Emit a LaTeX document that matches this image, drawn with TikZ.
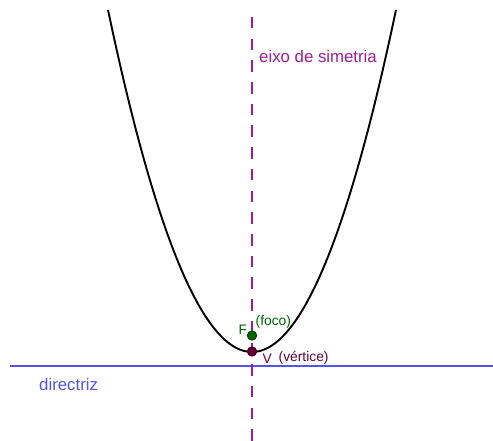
\documentclass[tikz,border=0pt]{standalone}
\usepackage{fontspec}
\setmainfont{Liberation Sans}
\usetikzlibrary{positioning}
\definecolor{eixo}{HTML}{9A1F9A}
\definecolor{dirz}{HTML}{5454E0}
\definecolor{foco}{HTML}{006400}
\definecolor{vert}{HTML}{660033}

\begin{document}
\begin{tikzpicture}[x=1pt, y=-1pt, font=\fontsize{16.8}{20}\selectfont,
  pto/.style={circle, inner sep=0pt, minimum size=9.5pt, draw=#1!70!black, fill=#1, line width=0.8pt},
  rot/.style={anchor=base west, inner sep=0pt, font=\fontsize{13.8}{16}\selectfont}]
\useasboundingbox (0,0) rectangle (493,441);
% reta directriz e eixo de simetria
\coordinate (d1) at (10,366); \coordinate (d2) at (493,366);
\coordinate (e1) at (252,17); \coordinate (e2) at (252,441);
\draw[dirz, line width=2pt] (d1) -- (d2);
\draw[eixo, line width=2.4pt, dash pattern=on 11.5pt off 10.2pt] (e1) -- (e2);
% parabola com vertice (252,352) e 4p = 60.6
\draw[black, line width=1.9pt, smooth, samples=73, domain=-144:144] plot ({252+\x},{352-(\x/10)*(\x/10)*1.65});
\node[pto=foco] (F) at (252,335.5) {};
\node[pto=vert] (V) at (252,351.5) {};
\node[anchor=base west, inner sep=0pt, text=eixo] (eixo) at (259,62.5) {eixo de simetria};
\node[anchor=base west, inner sep=0pt, text=dirz] (dir) at (39,390) {directriz};
\node[rot, text=foco] (Fl) at (238.5,334) {F};
\node[rot, text=foco] (focol) at (255.5,325) {(foco)};
\node[rot, text=vert] (Vl) at (262.5,363) {V};
\node[rot, text=vert] (vertl) at (278.5,361) {(vértice)};
\end{tikzpicture}
\end{document}
